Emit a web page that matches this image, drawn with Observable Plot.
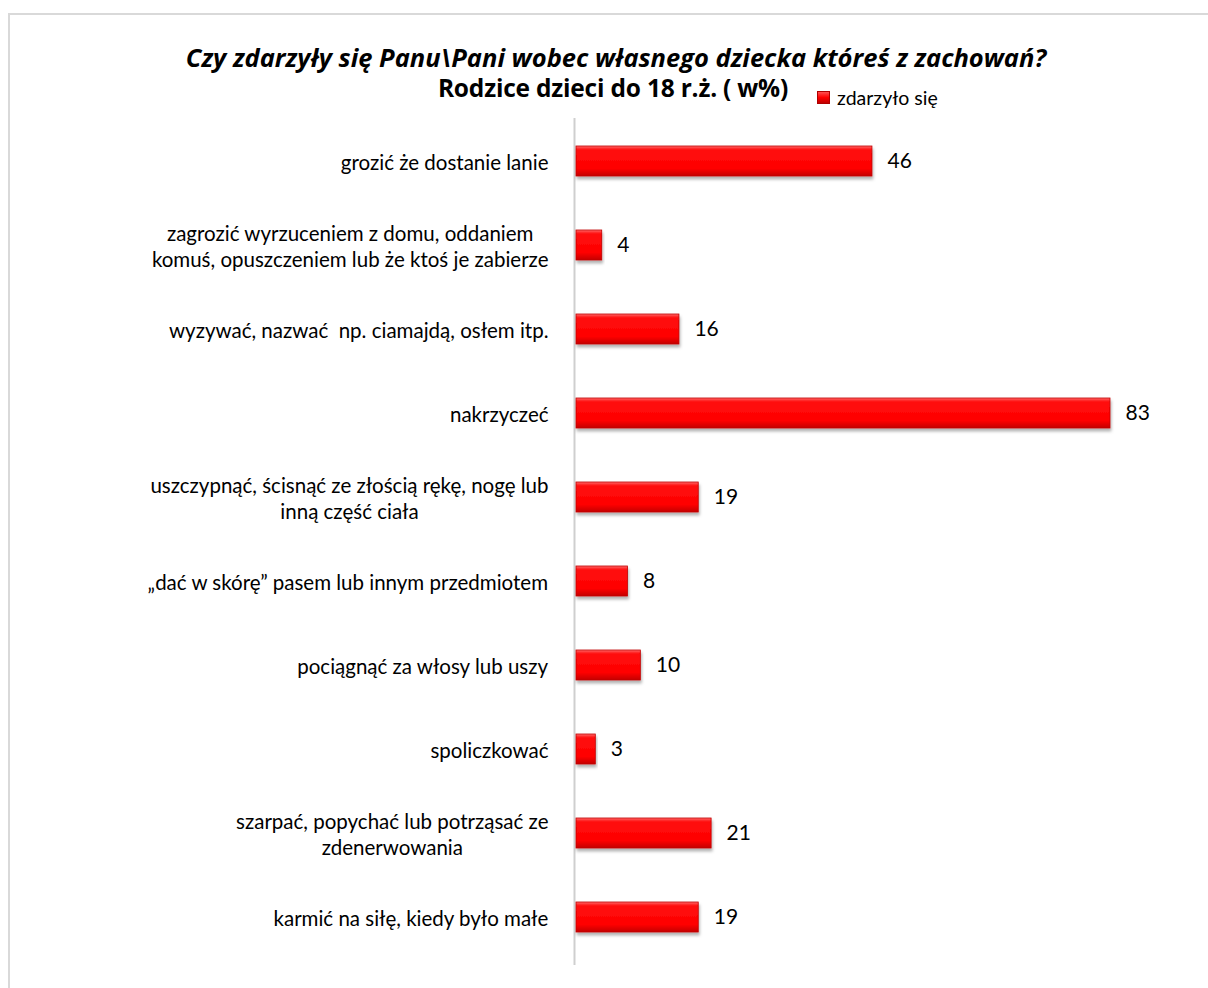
<!DOCTYPE html>
<html><head><meta charset="utf-8">
<script src="https://cdn.jsdelivr.net/npm/d3@7"></script>
<script src="https://cdn.jsdelivr.net/npm/@observablehq/plot@0.6"></script>
<style>
html,body{margin:0;padding:0;width:1208px;height:988px;overflow:hidden;background:#fff;font-family:Lato,"Open Sans",sans-serif;}
#frame{position:absolute;left:8px;top:13px;width:1400px;height:1200px;border:2px solid #d9d9d9;box-sizing:border-box;}
#title{position:absolute;left:0;width:1232px;top:41px;text-align:center;font-family:"Open Sans",sans-serif;font-weight:bold;font-style:italic;font-size:25.5px;line-height:32px;color:#000;letter-spacing:0px;}
#subtitle{position:absolute;left:0;width:1226px;top:72px;text-align:center;font-family:"Open Sans",sans-serif;font-weight:bold;font-size:24.5px;line-height:32px;color:#000;letter-spacing:-0.2px;}
#legend{position:absolute;left:817px;top:86px;font-size:19.5px;display:flex;align-items:center;}
#legend .sw{width:11px;height:11px;background:linear-gradient(#ff5050,#ff0000 50%,#c00000);border:1px solid #b00000;margin-right:7px;}
#chart{position:absolute;left:0;top:0;}
</style></head>
<body>
<div id="frame"></div>
<div id="chart"></div>
<div id="title">Czy zdarzyły się Panu\Pani wobec własnego dziecka któreś z zachowań?</div>
<div id="subtitle">Rodzice dzieci do 18 r.ż. ( w%)</div>
<div id="legend"><div class="sw"></div><span id="legendText"></span></div>
<script>
const categories = [
  "grozić że dostanie lanie",
  "zagrozić wyrzuceniem z domu, oddaniem\nkomuś, opuszczeniem lub że ktoś je zabierze",
  "wyzywać, nazwać  np. ciamajdą, osłem itp.",
  "nakrzyczeć",
  "uszczypnąć, ścisnąć ze złością rękę, nogę lub\ninną część ciała",
  "„dać w skórę” pasem lub innym przedmiotem",
  "pociągnąć za włosy lub uszy",
  "spoliczkować",
  "szarpać, popychać lub potrząsać ze\nzdenerwowania",
  "karmić na siłę, kiedy było małe"
];
const values = [46, 4, 16, 83, 19, 8, 10, 3, 21, 19];
const seriesName = "zdarzyło się";
document.getElementById("legendText").textContent = seriesName;

const data = categories.map((c, i) => ({category: c, value: values[i]}));

const labelFont = "20.5px Lato";
const ctx = document.createElement("canvas").getContext("2d");
ctx.font = labelFont;
const labelMarks = categories.map(c => {
  const w = Math.max(...c.split("\n").map(l => ctx.measureText(l).width));
  return Plot.text([c], {
    x: () => 0, y: d => d, text: d => d,
    textAnchor: "middle", dx: -(28 + w / 2),
    fontSize: 20.5, lineHeight: 1.28, fill: "#000", fontFamily: "Lato"
  });
});

const chart = Plot.plot({
  width: 1208,
  height: 988,
  marginLeft: 576,
  marginRight: 98,
  marginTop: 119,
  marginBottom: 29,
  style: {fontFamily: "Lato", background: "transparent", overflow: "visible"},
  x: {domain: [0, 83], axis: null},
  y: {domain: categories, paddingInner: 0.64, paddingOuter: 0.32, axis: null},
  marks: [
    Plot.ruleX([0], {dx: -2, stroke: "#cfcfcf", strokeWidth: 2, insetTop: -1, insetBottom: -6}),
    Plot.barX(data, {x: "value", y: "category", fill: "url(#barGrad)", stroke: "#c00000", strokeWidth: 0.8}),
    Plot.text(data, {x: "value", y: "category", text: d => String(d.value), textAnchor: "start", dx: 15, fontSize: 21, fill: "#000"}),
    ...labelMarks
  ]
});

const svg = d3.select(chart);
const defs = svg.insert("defs", ":first-child");
const g = defs.append("linearGradient").attr("id", "barGrad").attr("x1", 0).attr("y1", 0).attr("x2", 0).attr("y2", 1);
g.append("stop").attr("offset", "0%").attr("stop-color", "#ff6a6a");
g.append("stop").attr("offset", "12%").attr("stop-color", "#ff1010");
g.append("stop").attr("offset", "75%").attr("stop-color", "#ff0000");
g.append("stop").attr("offset", "100%").attr("stop-color", "#c40000");
const f = defs.append("filter").attr("id", "shadow").attr("x", "-5%").attr("y", "-20%").attr("width", "115%").attr("height", "160%");
f.append("feDropShadow").attr("dx", 1).attr("dy", 3).attr("stdDeviation", 1.5).attr("flood-color", "#000").attr("flood-opacity", 0.3);
svg.selectAll("g[aria-label='bar'] rect").attr("filter", "url(#shadow)");

document.getElementById("chart").appendChild(chart);
</script>
</body></html>
